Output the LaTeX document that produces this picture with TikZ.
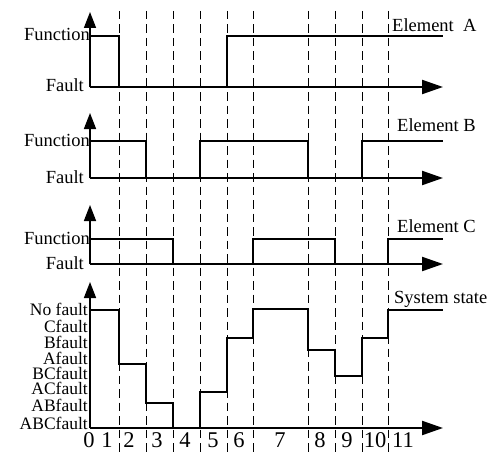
\documentclass[tikz,border=0pt]{standalone}
\usepackage{fontspec}
\setmainfont{Liberation Serif}
\usetikzlibrary{arrows.meta}
\begin{document}
\begin{tikzpicture}[x=1pt,y=-1pt,
  haxis/.style={line width=2.2pt,-{Triangle[length=21pt,width=14pt]}},
  vaxis/.style={line width=1.6pt,-{Triangle[length=16pt,width=12pt]}},
  sig/.style={line width=2.6pt},
  sys/.style={line width=1.4pt},
  gridline/.style={line width=0.9pt,dash pattern=on 8.5pt off 5pt},
  lbl/.style={font=\fontsize{18.5}{18.5}\selectfont, inner sep=0pt, anchor=base east},
  slbl/.style={font=\fontsize{17.5}{17.5}\selectfont, inner sep=0pt, anchor=base east},
  rlbl/.style={font=\fontsize{18.5}{18.5}\selectfont, inner sep=0pt, anchor=base west},
  num/.style={font=\fontsize{22.5}{22.5}\selectfont, inner sep=0pt, anchor=base}]
\useasboundingbox (0,0) rectangle (490,452);
% dashed time grid
\foreach \x in {119,146,173,200,227,253,308,335,362,388}
  \draw[gridline] (\x,11) -- (\x,452);
% axes
\coordinate (a0) at (90,87);
\draw[vaxis] (a0) -- (90,12);
\draw[haxis] (a0) -- (443,87);
\coordinate (b0) at (90,178);
\draw[vaxis] (b0) -- (90,113);
\draw[haxis] (b0) -- (443,178);
\coordinate (c0) at (90,264);
\draw[vaxis] (c0) -- (90,205);
\draw[haxis] (c0) -- (443,264);
\coordinate (s0) at (90,428);
\draw[vaxis] (s0) -- (90,282);
\draw[haxis] (s0) -- (443,428);
% element A
\draw[sig] (90,87) -- (90,36) -- (119,36) -- (119,87);
\draw[sig] (227,87) -- (227,36) -- (443,36);
% element B
\draw[sig] (90,178) -- (90,141) -- (146,141) -- (146,178);
\draw[sig] (200,178) -- (200,141) -- (308,141) -- (308,178);
\draw[sig] (362,178) -- (362,141) -- (443,141);
% element C
\draw[sig] (90,264) -- (90,239) -- (173,239) -- (173,264);
\draw[sig] (253,264) -- (253,239) -- (335,239) -- (335,264);
\draw[sig] (388,264) -- (388,239) -- (443,239);
% system state
\draw[sys] (90,310) -- (119,310) -- (119,364) -- (146,364) -- (146,403) -- (173,403)
  -- (173,428) -- (200,428) -- (200,392) -- (227,392) -- (227,338) -- (253,338)
  -- (253,309) -- (308,309) -- (308,350) -- (335,350) -- (335,376) -- (362,376)
  -- (362,338) -- (388,338) -- (388,310) -- (443,310);
% left labels
\node[lbl] (fa) at (90,41) {Function};
\node[lbl] (ua) at (84,92) {Fault};
\node[lbl] (fb) at (90,146) {Function};
\node[lbl] (ub) at (84,183) {Fault};
\node[lbl] (fc) at (90,244) {Function};
\node[lbl] (uc) at (84,269) {Fault};
\node[slbl] (l0) at (88,315) {No fault};
\node[slbl] (l1) at (88,332) {Cfault};
\node[slbl] (l2) at (88,348) {Bfault};
\node[slbl] (l3) at (88,364) {Afault};
\node[slbl] (l4) at (88,379) {BCfault};
\node[slbl] (l5) at (88,394) {ACfault};
\node[slbl] (l6) at (88,411) {ABfault};
\node[slbl] (l7) at (88,429) {ABCfault};
% right labels
\node[rlbl] (ea) at (392,32) {Element\ \ A};
\node[rlbl] (eb) at (397,131) {Element B};
\node[rlbl] (ec) at (397,232) {Element C};
\node[rlbl] (es) at (394,303) {System state};
% time numbers
\foreach \x/\t in {89/0,107/1,129/2,157/3,185/4,213/5,239/6,280/7,320/8,347/9,375/10,403/11}
  \node[num] (t\t) at (\x,447) {\t};
\end{tikzpicture}
\end{document}
